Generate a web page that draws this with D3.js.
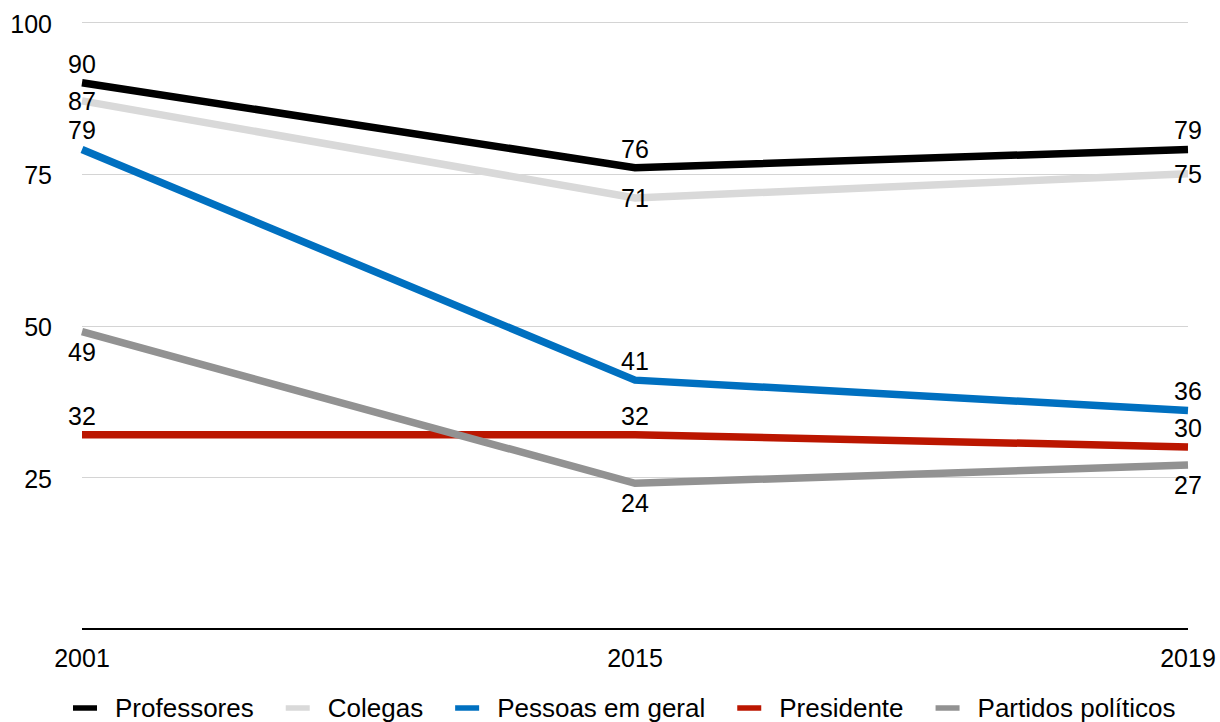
<!DOCTYPE html>
<html>
<head>
<meta charset="utf-8">
<script src="https://cdn.jsdelivr.net/npm/d3@7"></script>
<style>
  html, body { margin: 0; padding: 0; background: #ffffff; }
  svg { display: block; font-family: "Liberation Sans", Arial, sans-serif; }
</style>
</head>
<body>
<svg id="chart" width="1220" height="722"></svg>
<script>
// Years on the horizontal axis
const years = ["2001", "2015", "2019"];

// Series values (percent)
const professores = [90, 76, 79];
const colegas = [87, 71, 75];
const pessoasEmGeral = [79, 41, 36];
const presidente = [32, 32, 30];
const partidosPoliticos = [49, 24, 27];

// Series names and y-axis ticks
const seriesNames = ["Professores", "Colegas", "Pessoas em geral", "Presidente", "Partidos políticos"];
const yTicks = [25, 50, 75, 100];

// Styling per series
const seriesColors = ["#000000", "#d9d9d9", "#0070c0", "#bb1600", "#929292"];
const labelPlacement = ["above", "center", "above", "above", "below"];

const seriesValues = [professores, colegas, pessoasEmGeral, presidente, partidosPoliticos];
const series = seriesNames.map((name, i) => ({
  name,
  color: seriesColors[i],
  placement: labelPlacement[i],
  points: years.map((yr, j) => ({ year: yr, value: seriesValues[i][j] }))
}));

const svg = d3.select("#chart");
const plotLeft = 82, plotRight = 1188, plotTop = 22, plotBottom = 629;

const x = d3.scalePoint().domain(years).range([plotLeft, plotRight]);
const y = d3.scaleLinear().domain([0, 100]).range([plotBottom, plotTop]);

const fontSize = 25;

// Horizontal gridlines
svg.append("g")
  .selectAll("line")
  .data(yTicks)
  .join("line")
  .attr("x1", plotLeft).attr("x2", plotRight)
  .attr("y1", d => Math.round(y(d)) + 0.5)
  .attr("y2", d => Math.round(y(d)) + 0.5)
  .attr("stroke", "#d4d4d4")
  .attr("stroke-width", 1);

// Y-axis tick labels
svg.append("g")
  .selectAll("text")
  .data(yTicks)
  .join("text")
  .attr("x", 52)
  .attr("y", d => y(d) + 10.5)
  .attr("text-anchor", "end")
  .attr("font-size", fontSize)
  .attr("fill", "#000")
  .text(d => d);

// Baseline axis
svg.append("line")
  .attr("x1", plotLeft).attr("x2", plotRight)
  .attr("y1", plotBottom).attr("y2", plotBottom)
  .attr("stroke", "#000")
  .attr("stroke-width", 2);

// X-axis labels
svg.append("g")
  .selectAll("text")
  .data(years)
  .join("text")
  .attr("x", d => x(d))
  .attr("y", 667)
  .attr("text-anchor", "middle")
  .attr("font-size", fontSize)
  .attr("fill", "#000")
  .text(d => d);

// Lines
const line = d3.line()
  .x(d => x(d.year))
  .y(d => y(d.value));

svg.append("g")
  .selectAll("path")
  .data(series)
  .join("path")
  .attr("d", d => line(d.points))
  .attr("fill", "none")
  .attr("stroke", d => d.color)
  .attr("stroke-width", 7.5)
  .attr("stroke-linejoin", "miter")
  .attr("stroke-linecap", "butt");

// Data labels
const labelOffset = { above: -10, center: 9, below: 29 };
const labelG = svg.append("g");
series.forEach(s => {
  labelG.selectAll(null)
    .data(s.points)
    .join("text")
    .attr("x", d => x(d.year))
    .attr("y", d => y(d.value) + labelOffset[s.placement])
    .attr("text-anchor", "middle")
    .attr("font-size", fontSize)
    .attr("fill", "#000")
    .text(d => d.value);
});

// Legend
const legend = svg.append("g");
let lx = 73;
const legendY = 708;
series.forEach(s => {
  legend.append("line")
    .attr("x1", lx).attr("x2", lx + 24)
    .attr("y1", legendY).attr("y2", legendY)
    .attr("stroke", s.color)
    .attr("stroke-width", 5.5);
  const t = legend.append("text")
    .attr("x", lx + 42)
    .attr("y", 717)
    .attr("font-size", 26)
    .attr("fill", "#000")
    .text(s.name);
  lx = lx + 42 + t.node().getComputedTextLength() + 32;
});
</script>
</body>
</html>
